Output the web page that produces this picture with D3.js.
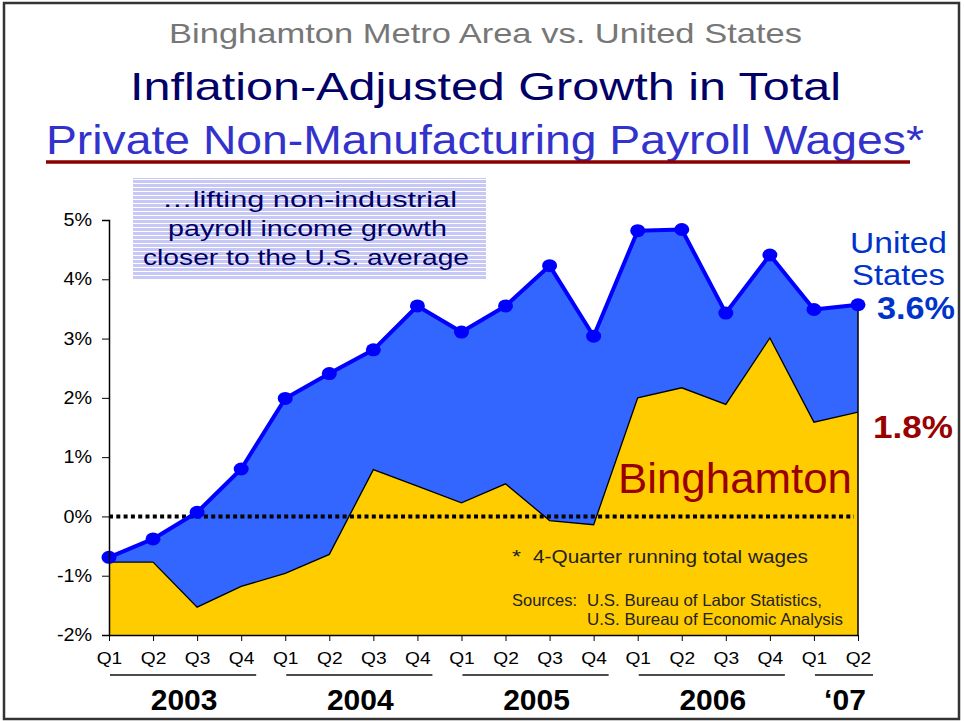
<!DOCTYPE html>
<html>
<head>
<meta charset="utf-8">
<script src="https://cdn.jsdelivr.net/npm/d3@7"></script>
<style>
  body { margin: 0; background: #fff; }
  svg { display: block; font-family: "Liberation Sans", Arial, sans-serif; }
</style>
</head>
<body>
<svg id="chart"></svg>
<script>
var width = 964
var height = 721

// data
var quarters = ["Q1","Q2","Q3","Q4","Q1","Q2","Q3","Q4","Q1","Q2","Q3","Q4","Q1","Q2","Q3","Q4","Q1","Q2"]
var usGrowth = [-0.69,-0.38,0.07,0.80,1.99,2.41,2.81,3.55,3.11,3.55,4.23,3.04,4.82,4.84,3.43,4.41,3.49,3.57]
var binghamtonGrowth = [-0.77,-0.77,-1.53,-1.18,-0.96,-0.64,0.79,0.51,0.23,0.55,-0.07,-0.14,2.00,2.17,1.89,3.01,1.59,1.76]
var years = ["2003","2004","2005","2006","\u201807"]
var yearFirst = [0,4,8,12,16]
var yearLast = [3,7,11,15,17]
var yTicks = [-2,-1,0,1,2,3,4,5]

var svg = d3.select("#chart")
  .attr("width", width)
  .attr("height", height)

var x = d3.scaleLinear()
  .domain([0, quarters.length - 1])
  .range([109, 858])
var y = d3.scaleLinear()
  .domain([-2, 5])
  .range([635, 220])

// little helper: text squeezed/stretched to a measured width
function fitText(str, x0, y0, len, size, color, weight) {
  return svg.append("text")
    .attr("x", x0)
    .attr("y", y0)
    .attr("textLength", len)
    .attr("lengthAdjust", "spacingAndGlyphs")
    .attr("font-size", size)
    .attr("font-weight", weight || "normal")
    .attr("fill", color)
    .text(str)
}

// frame
svg.append("rect")
  .attr("x", 4).attr("y", 3)
  .attr("width", 955).attr("height", 716)
  .attr("fill", "#fff")
  .attr("stroke", "#333")
  .attr("stroke-width", 2.5)

// titles
fitText("Binghamton Metro Area vs. United States", 169, 43, 633, 28, "#777")
fitText("Inflation-Adjusted Growth in Total", 130, 100, 711, 39, "#000066")
fitText("Private Non-Manufacturing Payroll Wages*", 46, 154, 878, 40, "#3333cc")
svg.append("line")
  .attr("x1", 46).attr("x2", 910)
  .attr("y1", 162).attr("y2", 162)
  .attr("stroke", "#8b0000")
  .attr("stroke-width", 3.5)

// striped note box
var defs = svg.append("defs")
var pat = defs.append("pattern")
  .attr("id", "stripes")
  .attr("patternUnits", "userSpaceOnUse")
  .attr("width", 4).attr("height", 4)
pat.append("rect").attr("width", 4).attr("height", 4).attr("fill", "#fff")
pat.append("rect").attr("width", 4).attr("height", 3).attr("fill", "#c8c8f6")

svg.append("rect")
  .attr("x", 133).attr("y", 178)
  .attr("width", 353).attr("height", 102)
  .attr("fill", "url(#stripes)")

fitText("\u2026lifting non-industrial", 162, 207, 295, 22.5, "#000066")
fitText("payroll income growth", 168, 236, 279, 22.5, "#000066")
fitText("closer to the U.S. average", 143, 265, 326, 22.5, "#000066")

// areas
var usArea = d3.area()
  .x(function(d, i) { return x(i) })
  .y0(y(-2))
  .y1(function(d) { return y(d) })
var bingArea = d3.area()
  .x(function(d, i) { return x(i) })
  .y0(y(-2))
  .y1(function(d) { return y(d) })
var lineGen = d3.line()
  .x(function(d, i) { return x(i) })
  .y(function(d) { return y(d) })

svg.append("path")
  .attr("d", usArea(usGrowth))
  .attr("fill", "#3366ff")
svg.append("path")
  .attr("d", bingArea(binghamtonGrowth))
  .attr("fill", "#ffcc00")
svg.append("path")
  .attr("d", lineGen(binghamtonGrowth))
  .attr("fill", "none")
  .attr("stroke", "#000")
  .attr("stroke-width", 1.3)

// right edge of the filled block
var last = usGrowth.length - 1
svg.append("line")
  .attr("x1", x(last)).attr("x2", x(last))
  .attr("y1", y(usGrowth[last])).attr("y2", y(-2))
  .attr("stroke", "#000")
  .attr("stroke-width", 1.5)

// zero line
svg.append("line")
  .attr("x1", x(0)).attr("x2", x(last) - 4)
  .attr("y1", y(0)).attr("y2", y(0))
  .attr("stroke", "#000")
  .attr("stroke-width", 4)
  .attr("stroke-dasharray", "4,3.3")

// US line + markers
svg.append("path")
  .attr("d", lineGen(usGrowth))
  .attr("fill", "none")
  .attr("stroke", "#0000ff")
  .attr("stroke-width", 4)
  .attr("stroke-linejoin", "round")
svg.selectAll("ellipse.pt")
  .data(usGrowth)
  .enter()
  .append("ellipse")
  .attr("class", "pt")
  .attr("cx", function(d, i) { return x(i) })
  .attr("cy", function(d) { return y(d) })
  .attr("rx", 7.5)
  .attr("ry", 6.5)
  .attr("fill", "#0000ff")

// axes
var yAxis = svg.append("g")
  .attr("transform", "translate(" + x(0) + ",0)")
  .call(d3.axisLeft(y)
    .tickValues(yTicks)
    .tickFormat(function(d) { return d + "%" })
    .tickSize(7)
    .tickPadding(8))
yAxis.select(".domain").attr("stroke-width", 1.5)
yAxis.selectAll("text")
  .attr("font-size", 17.5)
  .attr("font-family", "Liberation Sans, Arial, sans-serif")
  .attr("fill", "#000")
  .attr("transform", "scale(1.13,1)")

var xAxis = svg.append("g")
  .attr("transform", "translate(0," + y(-2) + ")")
  .call(d3.axisBottom(x)
    .tickValues(d3.range(quarters.length))
    .tickFormat(function(i) { return quarters[i] })
    .tickSize(6)
    .tickSizeOuter(0)
    .tickPadding(11))
xAxis.select(".domain").attr("stroke-width", 1.5)
xAxis.selectAll("text")
  .attr("font-size", 17)
  .attr("font-family", "Liberation Sans, Arial, sans-serif")
  .attr("fill", "#000")
  .attr("transform", "scale(1.13,1)")

// year groups
var yearG = svg.selectAll("g.year")
  .data(years)
  .enter()
  .append("g")
  .attr("class", "year")
yearG.append("line")
  .attr("x1", function(d, i) { return x(yearFirst[i]) + 1 })
  .attr("x2", function(d, i) { return x(yearLast[i]) + 15 })
  .attr("y1", 675).attr("y2", 675)
  .attr("stroke", "#111")
  .attr("stroke-width", 1.5)
yearG.append("text")
  .attr("x", function(d, i) { return (x(yearFirst[i]) + x(yearLast[i])) / 2 + 9 })
  .attr("y", 710)
  .attr("text-anchor", "middle")
  .attr("font-size", 30)
  .attr("font-weight", "bold")
  .text(function(d) { return d })

// series labels
fitText("United", 850, 253, 97, 29, "#0033cc")
fitText("States", 852, 285, 93, 29, "#0033cc")
fitText(usGrowth[last].toFixed(1) + "%", 877, 319, 78, 32, "#0033cc", "bold")
fitText(binghamtonGrowth[last].toFixed(1) + "%", 873, 438, 80, 32, "#990000", "bold")
fitText("Binghamton", 618, 493, 234, 42, "#990000")

// footnotes
fitText("*", 512, 563, 9, 18, "#222")
fitText("4-Quarter running total wages", 533, 563, 275, 18, "#222")
fitText("Sources:", 512, 606, 65, 16.5, "#222")
fitText("U.S. Bureau of Labor Statistics,", 587, 606, 235, 16.5, "#222")
fitText("U.S. Bureau of Economic Analysis", 587, 625, 256, 16.5, "#222")
</script>
</body>
</html>
